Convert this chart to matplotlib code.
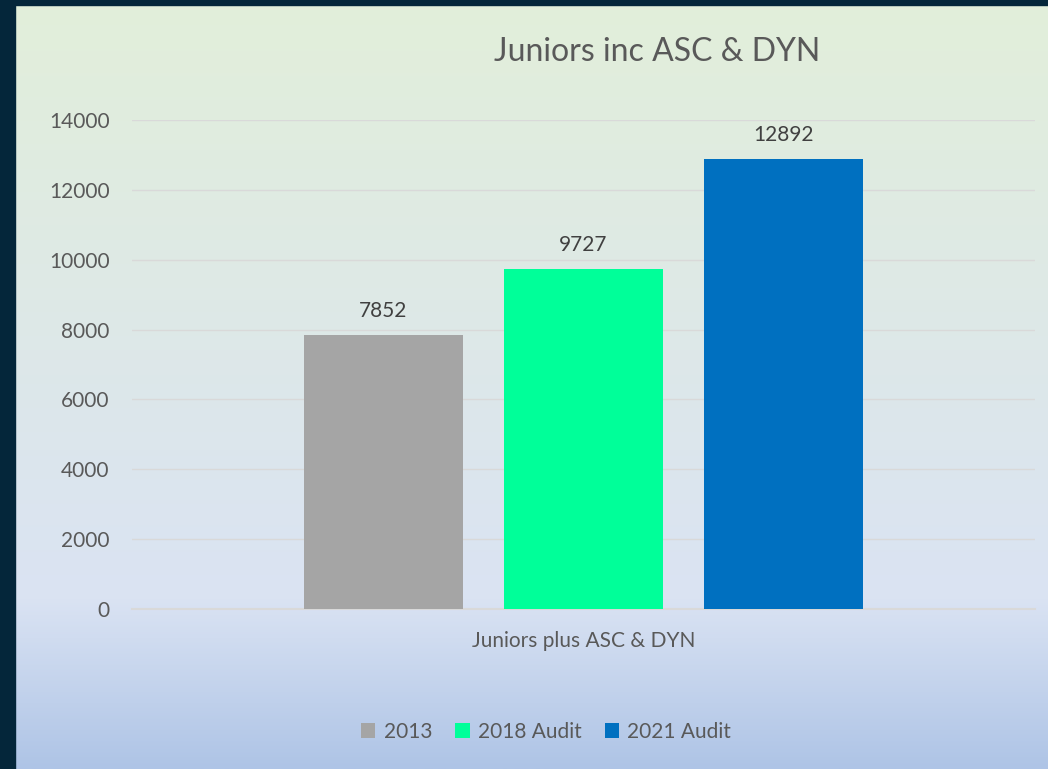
import matplotlib.pyplot as plt
import numpy as np
from matplotlib.patches import Rectangle

# data
series = ['2013', '2018 Audit', '2021 Audit']
values = [7852, 9727, 12892]
colors = ['#a5a5a5', '#00ff99', '#0070c0']
category = 'Juniors plus ASC & DYN'

plt.rcParams['font.family'] = ['Lato', 'DejaVu Sans']

W, H = 1048, 769
fig = plt.figure(figsize=(W / 100, H / 100), dpi=100)

# background gradient (green at top -> blue at bottom)
bg = fig.add_axes([0, 0, 1, 1])
bg.set_axis_off()
stops_y = [0.0, 0.78, 1.0]
top = np.array([0xe2, 0xef, 0xda]) / 255
mid = np.array([0xda, 0xe3, 0xf3]) / 255
bot = np.array([0xae, 0xc4, 0xe6]) / 255
ys = np.linspace(0, 1, 400)
grad = np.zeros((400, 1, 3))
for c in range(3):
    grad[:, 0, c] = np.interp(ys, stops_y, [top[c], mid[c], bot[c]])
bg.imshow(grad, aspect='auto', extent=[0, 1, 0, 1], origin='upper')
bg.set_xlim(0, 1)
bg.set_ylim(0, 1)
# dark frame left and top
bg.add_patch(Rectangle((0, 0), 15 / W, 1, color='#04263a', zorder=5))
bg.add_patch(Rectangle((0, 1 - 5 / H), 1, 5 / H, color='#04263a', zorder=5))

# plot area
left, right = 132 / W, 1035 / W
y0, y1 = 1 - 609 / H, 1 - 120 / H
ax = fig.add_axes([left, y0, right - left, y1 - y0])
ax.patch.set_alpha(0)

n = len(values)
bw = 159 / (1035 - 132)
gap = 41 / (1035 - 132)
xs = [0.5 + (i - (n - 1) / 2) * (bw + gap) for i in range(n)]
for x, v, c, s in zip(xs, values, colors, series):
    ax.bar(x, v, width=bw, color=c, label=s, zorder=3)
    ax.text(x, v + 400, str(v), ha='center', va='bottom', fontsize=15, color='#404040')

ax.set_xlim(0, 1)
ax.set_ylim(0, 14000)
ax.set_yticks(range(0, 14001, 2000))
ax.tick_params(axis='y', length=0, labelsize=15, labelcolor='#595959', pad=16)
ax.set_xticks([0.5])
ax.set_xticklabels([category])
ax.tick_params(axis='x', length=0, labelsize=15, labelcolor='#595959', pad=16)
ax.grid(axis='y', color='#d9d9d9', linewidth=1, zorder=0)
for sp in ['top', 'right', 'left']:
    ax.spines[sp].set_visible(False)
ax.spines['bottom'].set_color('#d9d9d9')
ax.spines['bottom'].set_linewidth(1.5)

fig.text(657 / W, 1 - 52 / H, 'Juniors inc ASC & DYN', ha='center', va='center',
         fontsize=23, color='#595959')

leg = ax.legend(loc='center', bbox_to_anchor=(546 / W, 1 - 732 / H),
                bbox_transform=fig.transFigure, ncol=3, frameon=False,
                fontsize=15, handlelength=0.7, handleheight=0.7,
                handletextpad=0.4, columnspacing=1.1)
for t in leg.get_texts():
    t.set_color('#595959')

fig.savefig('out.png', dpi=100)
